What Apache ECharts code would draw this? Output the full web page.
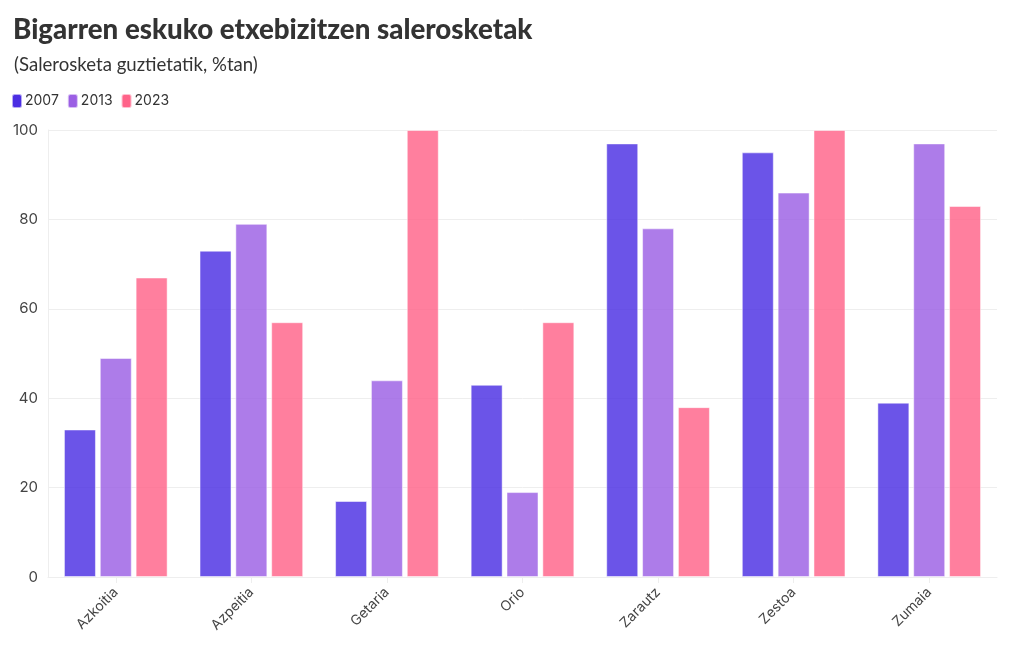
<!DOCTYPE html>
<html><head><meta charset="utf-8">
<script src="https://cdn.jsdelivr.net/npm/echarts@6/dist/echarts.min.js"></script>
<style>html,body{margin:0;padding:0;background:#fff}#c{width:1020px;height:650px}</style>
</head><body><div id="c"></div>
<script>
const categories = ["Azkoitia","Azpeitia","Getaria","Orio","Zarautz","Zestoa","Zumaia"];
const seriesNames = ["2007","2013","2023"];
const v2007 = [33,73,17,43,97,95,39];
const v2013 = [49,79,44,19,78,86,97];
const v2023 = [67,57,100,57,38,100,83];
const yTicks = [0,20,40,60,80,100];

const colors = ["#4b2ee3","#9b5fe4","#ff6389"];
const chart = echarts.init(document.getElementById('c'));
const font = "Inter, 'Noto Sans', sans-serif";
const mk = (name, data, i) => ({
  name, type: 'bar', data,
  barWidth: 32, barGap: '12%',
  itemStyle: { color: colors[i], opacity: 0.82, borderColor: 'rgba(255,255,255,0.6)', borderWidth: 1 },
  emphasis: { disabled: true }
});
chart.setOption({
  animation: false,
  color: colors,
  title: [
    { text: "Bigarren eskuko etxebizitzen salerosketak", left: 8, top: 11,
      textStyle: { fontFamily: "Lato, 'Noto Sans', sans-serif", fontSize: 27.7, fontWeight: 900, color: '#333' } },
    { text: "(Salerosketa guztietatik, %tan)", left: 9, top: 50,
      textStyle: { fontFamily: "Lato, 'Noto Sans',sans-serif", fontSize: 18.6, fontWeight: 'normal', color: '#333' } }
  ],
  legend: {
    left: 6, top: 88, itemWidth: 10, itemHeight: 14, itemGap: 8,
    icon: 'roundRect',
    itemStyle: { opacity: 1 },
    textStyle: { fontFamily: font, fontSize: 14, color: '#333', padding: [0,0,0,-2] },
    data: seriesNames.map((n, i) => ({ name: n, itemStyle: { color: colors[i], opacity: 1 } }))
  },
  grid: { left: 48, right: 23, top: 130, bottom: 73, containLabel: false },
  xAxis: {
    type: 'category', data: categories,
    axisLine: { show: true, lineStyle: { color: '#eee' } },
    axisTick: { show: true, alignWithLabel: true, length: 6, lineStyle: { color: '#eee' } },
    axisLabel: { rotate: 45, fontFamily: font, fontSize: 14, color: '#444', margin: 13 }
  },
  yAxis: {
    type: 'value', min: 0, max: 100, interval: 20,
    axisLine: { show: true, lineStyle: { color: '#eee' } },
    axisTick: { show: false },
    splitLine: { lineStyle: { color: '#eee' } },
    axisLabel: { fontFamily: font, fontSize: 15, color: '#444', margin: 10,
      formatter: v => yTicks.includes(v) ? String(v) : '' }
  },
  series: [mk(seriesNames[0], v2007, 0), mk(seriesNames[1], v2013, 1), mk(seriesNames[2], v2023, 2)]
});
</script></body></html>
